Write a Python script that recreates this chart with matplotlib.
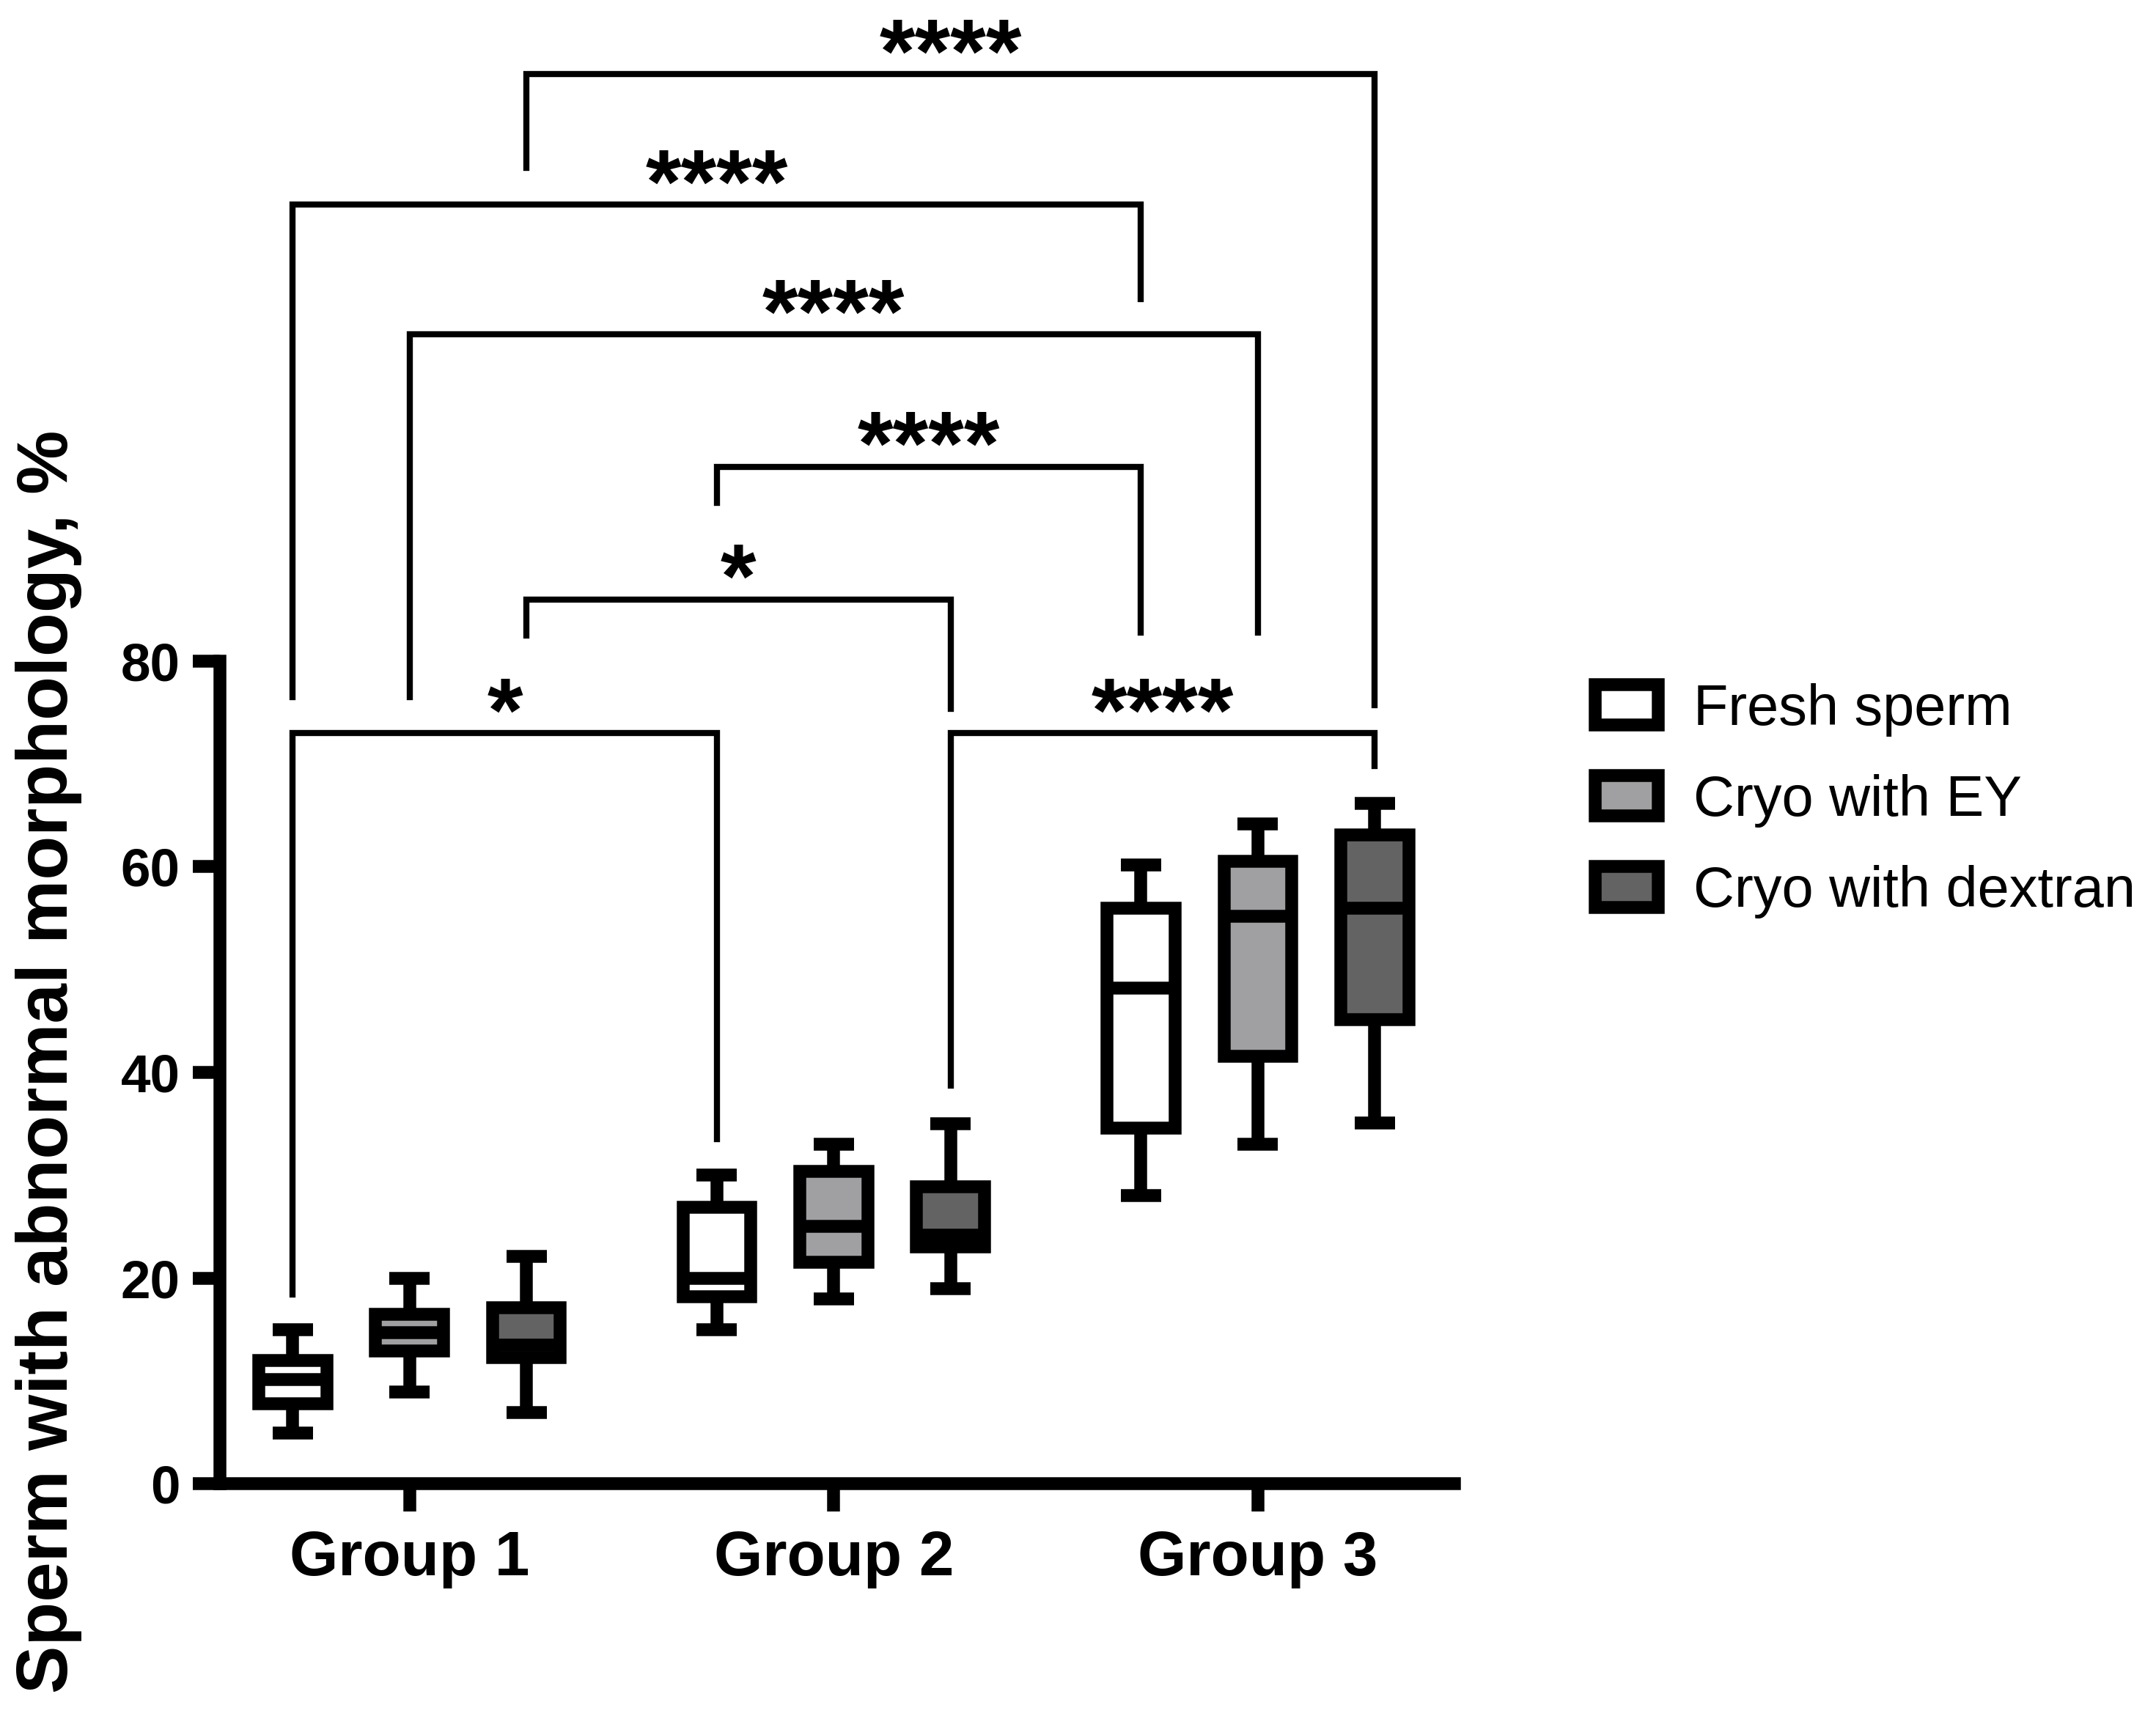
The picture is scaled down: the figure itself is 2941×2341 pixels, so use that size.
import numpy as np
import matplotlib
matplotlib.use('Agg')
import matplotlib.pyplot as plt
from matplotlib.patches import Patch

plt.rcParams['font.family'] = ['Liberation Sans', 'DejaVu Sans']

groups = ['Group 1', 'Group 2', 'Group 3']
series = ['Fresh sperm', 'Cryo with EY', 'Cryo with dextran']
colors = ['#ffffff', '#a0a0a3', '#636363']

# five-number summaries per series, one value per group
fresh_min = [4.9, 15.0, 28.0]
fresh_q1 = [7.8, 18.2, 34.6]
fresh_med = [10.1, 20.0, 48.2]
fresh_q3 = [12.0, 26.9, 56.0]
fresh_max = [15.0, 30.0, 60.2]

ey_min = [8.9, 18.0, 33.0]
ey_q1 = [12.9, 21.5, 41.6]
ey_med = [14.7, 25.0, 55.2]
ey_q3 = [16.5, 30.4, 60.5]
ey_max = [20.0, 33.0, 64.2]

dex_min = [6.9, 19.0, 35.1]
dex_q1 = [12.3, 23.0, 45.1]
dex_med = [13.5, 24.2, 56.0]
dex_q3 = [17.1, 28.9, 63.1]
dex_max = [22.1, 35.0, 66.2]

# significance brackets: (series, group) -> (series, group), bar height, leg ends, label
brk_from = [(0, 0), (2, 1), (2, 0), (0, 1), (1, 0), (0, 0), (2, 0)]
brk_to = [(0, 1), (2, 2), (2, 1), (0, 2), (1, 2), (0, 2), (2, 2)]
brk_y = [73.0, 73.0, 86.0, 98.9, 111.8, 124.4, 137.1]
brk_left_end = [18.4, 38.7, 82.5, 95.4, 76.5, 76.5, 128.0]
brk_right_end = [33.5, 69.8, 75.4, 82.8, 82.8, 115.2, 75.7]
brk_label = ['*', '****', '*', '****', '****', '****', '****']

offsets = [-0.2755, 0.0, 0.2755]
LW = 4.2

stats_all = [
    (fresh_min, fresh_q1, fresh_med, fresh_q3, fresh_max),
    (ey_min, ey_q1, ey_med, ey_q3, ey_max),
    (dex_min, dex_q1, dex_med, dex_q3, dex_max),
]


def xpos(s, g):
    return g + offsets[s]


fig = plt.figure(figsize=(2941 / 300, 2341 / 300), dpi=300)
ax = fig.add_axes([0.102, 0.1354, 0.5727, 0.4793])

for s, (lo, q1, med, q3, hi) in enumerate(stats_all):
    st = []
    for g in range(len(groups)):
        st.append(dict(whislo=lo[g], q1=q1[g], med=med[g], q3=q3[g], whishi=hi[g], fliers=[]))
    pos = [xpos(s, g) for g in range(len(groups))]
    ax.bxp(st, positions=pos, widths=0.16, patch_artist=True, showfliers=False,
           boxprops=dict(facecolor=colors[s], edgecolor='black', linewidth=LW),
           medianprops=dict(color='black', linewidth=LW, solid_capstyle='butt'),
           whiskerprops=dict(color='black', linewidth=LW, solid_capstyle='butt'),
           capprops=dict(color='black', linewidth=LW, solid_capstyle='butt'),
           capwidths=0.095, manage_ticks=False)

for i in range(len(brk_label)):
    x1 = xpos(*brk_from[i])
    x2 = xpos(*brk_to[i])
    y = brk_y[i]
    ax.plot([x1, x1, x2, x2], [brk_left_end[i], y, y, brk_right_end[i]],
            color='black', lw=2.0, clip_on=False, solid_joinstyle='miter')
    ax.text((x1 + x2) / 2, y - 0.8, brk_label[i], ha='center', va='baseline',
            fontsize=30, fontweight='bold', clip_on=False)

ax.set_xlim(-0.447, 2.464)
ax.set_ylim(0, 80)
ax.set_yticks([0, 20, 40, 60, 80])
ax.set_xticks(range(len(groups)))
ax.set_xticklabels(groups)
for sp in ['top', 'right']:
    ax.spines[sp].set_visible(False)
for sp in ['left', 'bottom']:
    ax.spines[sp].set_linewidth(LW)
ax.tick_params(axis='y', length=9, width=LW, pad=4, labelsize=17.5)
ax.tick_params(axis='x', length=9, width=LW, pad=6, labelsize=20.5)
for lab in ax.get_xticklabels() + ax.get_yticklabels():
    lab.set_fontweight('bold')

fig.text(0.0225, 0.3814, 'Sperm with abnormal morphology, %', rotation=90,
         ha='center', va='center', fontsize=23.5, fontweight='bold')

handles = [Patch(facecolor=c, edgecolor='black', linewidth=LW) for c in colors]
fig.legend(handles, series, loc='upper left', bbox_to_anchor=(0.740, 0.602),
           frameon=False, fontsize=18.6, handlelength=1.1, handleheight=0.72,
           handletextpad=0.62, labelspacing=0.66, borderpad=0, borderaxespad=0)

fig.savefig('out.png', dpi=300)
